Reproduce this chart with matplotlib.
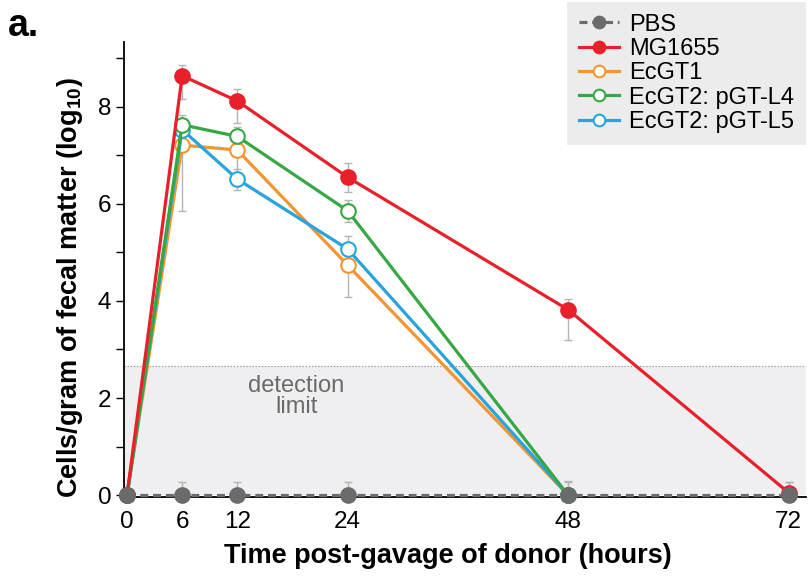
import matplotlib
matplotlib.use("Agg")
import matplotlib.pyplot as plt
import numpy as np

plt.rcParams['font.family'] = ['Liberation Sans', 'DejaVu Sans']
plt.rcParams['mathtext.fontset'] = 'custom'
plt.rcParams['mathtext.rm'] = 'Liberation Sans'
plt.rcParams['mathtext.bf'] = 'Liberation Sans:bold'

hours = [0, 6, 12, 24, 48, 72]
pbs = [0, 0, 0, 0, 0, 0]
pbs_lo = [0, 0, 0, 0, 0, 0]
pbs_hi = [0, 0.27, 0.27, 0.27, 0.27, 0.27]

mg1655 = [0, 8.64, 8.12, 6.55, 3.82, 0.05]
mg_lo = [0, 0.48, 0.45, 0.3, 0.62, 0]
mg_hi = [0, 0.22, 0.25, 0.3, 0.22, 0.22]

ecgt1_h = [0, 6, 12, 24, 48]
ecgt1 = [0, 7.21, 7.11, 4.74, 0]
ecgt1_lo = [0, 1.35, 0.5, 0.66, 0]
ecgt1_hi = [0, 0.2, 0.2, 0.3, 0]

l4_h = [0, 6, 12, 24, 48]
l4 = [0, 7.63, 7.39, 5.86, 0]
l4_lo = [0, 0.2, 0.2, 0.23, 0]
l4_hi = [0, 0.2, 0.2, 0.23, 0.3]

l5_h = [0, 6, 12, 24, 48]
l5 = [0, 7.53, 6.51, 5.07, 0]
l5_lo = [0, 0.2, 0.22, 0.26, 0]
l5_hi = [0, 0.2, 0.2, 0.26, 0]

detection_limit = 2.66

fig = plt.figure(figsize=(8.12, 5.77), dpi=100)
ax = fig.add_axes([0.1527, 0.1386, 0.840, 0.789])
ax.set_xlim(-0.33, 73.9)
ax.set_ylim(-0.04, 9.34)

ax.axhspan(0, detection_limit, color='#efeff2', zorder=0, lw=0)
ax.axhline(detection_limit, color='#999999', ls=(0, (1, 1.5)), lw=0.9, zorder=1)
ax.text(18.4, 2.03, 'detection\nlimit', ha='center', va='center', fontsize=17,
        color='#6a6a6a', linespacing=0.95)

ecol = '#b4b4b4'
def draw(x, y, lo, hi, color, mfc, label, ls='-', z=3):
    ax.errorbar(x, y, yerr=[lo, hi], fmt='none', ecolor=ecol, elinewidth=1.0,
                capsize=3, capthick=1.0, zorder=2)
    ax.plot(x, y, ls=ls, color=color, lw=2.3, marker='o', markersize=10.5,
            markerfacecolor=mfc, markeredgecolor=color, markeredgewidth=1.5,
            label=label, zorder=z, clip_on=False)

draw(hours, pbs, pbs_lo, pbs_hi, '#6b6b6b', '#6b6b6b', 'PBS', ls=(0, (2.5, 1.5)), z=6)
draw(hours, mg1655, mg_lo, mg_hi, '#e8202a', '#e8202a', 'MG1655', z=5)
draw(ecgt1_h, ecgt1, ecgt1_lo, ecgt1_hi, '#f39530', 'white', 'EcGT1', z=3)
draw(l4_h, l4, l4_lo, l4_hi, '#35a843', 'white', 'EcGT2: pGT-L4', z=4)
draw(l5_h, l5, l5_lo, l5_hi, '#27a4dd', 'white', 'EcGT2: pGT-L5', z=3)

for s in ['top', 'right']:
    ax.spines[s].set_visible(False)
ax.spines['left'].set_linewidth(1.3)
ax.spines['bottom'].set_linewidth(1.3)
ax.set_xticks(hours)
ax.set_yticks(np.arange(0, 10, 2))
ax.set_yticks(np.arange(1, 10, 2), minor=True)
ax.tick_params(axis='both', labelsize=17.5, length=6, width=1.0, direction='out')
ax.tick_params(axis='y', which='minor', length=6, width=1.0)
ax.tick_params(axis='y', pad=3)
ax.tick_params(axis='x', length=0, pad=10)

ax.set_xlabel('Time post-gavage of donor (hours)', fontsize=19.5, fontweight='bold', labelpad=7)
ax.xaxis.label.set_x(0.475)
ax.set_ylabel('Cells/gram of fecal matter (log$_{\\mathbf{10}}$)', fontsize=19.5,
              fontweight='bold', labelpad=9)
ax.yaxis.label.set_y(0.46)

leg = fig.legend(loc='upper right', bbox_to_anchor=(0.998, 1.005), fontsize=17,
                 frameon=True, fancybox=False, handlelength=1.7, handletextpad=0.4,
                 borderpad=0.5, labelspacing=0.1, markerscale=0.8, borderaxespad=0.2)
leg.get_frame().set_facecolor('#ececec')
leg.get_frame().set_edgecolor('none')
leg.get_frame().set_alpha(1)

fig.text(0.01, 0.955, 'a.', fontsize=27, fontweight='bold', ha='left', va='center')

fig.savefig('out.png', dpi=100)
